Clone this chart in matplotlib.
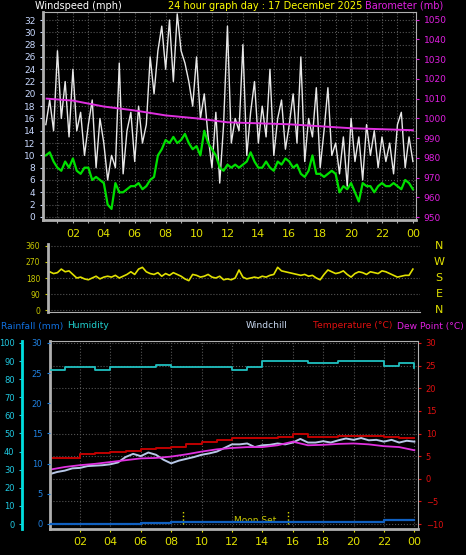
import numpy as np
import matplotlib
matplotlib.use("Agg")
import matplotlib.pyplot as plt

# ======================
# Data
# ======================
q_hours = np.arange(0.25, 24.01, 0.25)

wind_gust = [15, 19, 14, 27, 16, 22, 13, 24, 14, 17, 10, 15, 19, 8, 16, 12,
             6, 10, 8, 25, 7, 14, 17, 9, 18, 12, 15, 26, 20, 27, 31, 24,
             32, 22, 33, 27, 25, 22, 18, 26, 16, 20, 13, 8, 17, 5.5, 15, 31,
             12, 16, 14, 28, 10, 17, 22, 12, 18, 13, 24, 10, 16, 19, 11, 15,
             20, 12, 26, 9, 16, 13, 21, 8, 14, 21, 10, 12, 7, 13, 5, 16,
             9, 13, 6, 15, 10, 14, 8, 13, 9, 12, 7, 15, 17, 8, 13, 9]

wind_avg = [10, 10.5, 9, 8, 7.5, 9, 8, 9.5, 7.5, 7, 8, 8, 6, 6.5, 6, 5.5,
            2, 1.3, 5.5, 4, 4, 4.5, 5, 5, 5.5, 4.5, 5, 6, 6.5, 10, 11, 12.5,
            12, 13, 12, 12.5, 13.5, 12, 11, 11.5, 10, 14, 12, 11, 10, 8, 7.5, 8.5,
            8, 8.5, 8, 8.5, 9, 10.5, 9, 8, 8, 9, 8, 7.5, 9, 8.5, 9.5, 9,
            8, 8.5, 7, 6.5, 7.5, 10, 7, 7, 6.5, 7, 7.5, 7, 4, 5, 4.5, 5.5,
            4, 2.5, 5.5, 5, 5, 4, 5, 5.5, 5, 5, 5.5, 5, 4.5, 6, 5.5, 4.5]

wind_dir = [200, 215, 205, 210, 230, 215, 220, 200, 180, 185, 175, 170, 180, 190, 175, 185,
            190, 185, 195, 180, 190, 200, 215, 200, 230, 240, 215, 205, 200, 210, 190, 205,
            195, 210, 200, 190, 175, 165, 200, 195, 185, 190, 200, 185, 180, 190, 170, 175,
            170, 180, 225, 185, 175, 180, 185, 180, 190, 185, 195, 200, 240, 220, 215, 210,
            205, 200, 195, 200, 190, 195, 180, 170, 200, 225, 215, 205, 210, 220, 200, 185,
            205, 215, 210, 200, 215, 210, 205, 220, 215, 205, 195, 185, 190, 195, 195, 230]

baro_hours = [0.3, 2, 4, 6, 8, 10, 12, 14, 16, 18, 20, 22, 24]
baro = [1010, 1009, 1006, 1004, 1001.5, 1000, 998, 997.5, 997, 996, 995, 994.5, 994]

h_hours = np.arange(0, 25, 1)
temp = [4.5, 4.5, 5.5, 5.6, 6.0, 6.2, 6.6, 6.7, 7.0, 7.6, 8.1, 8.5, 9.1,
        8.9, 8.9, 9.3, 10.0, 9.3, 9.3, 9.4, 9.5, 9.5, 9.3, 9.1, 8.9]
dew = [2.0, 2.6, 3.0, 3.3, 3.7, 4.1, 4.5, 4.6, 4.9, 5.4, 6.0, 6.5, 6.8,
       7.0, 7.0, 7.4, 8.2, 7.4, 7.5, 7.7, 7.8, 7.6, 7.2, 7.0, 6.3]
humidity = [85.3, 86.6, 86.6, 85.3, 86.6, 86.6, 86.6, 88.0, 86.6, 86.6, 86.6, 86.6, 85.3,
            86.6, 90, 90, 90, 89, 89, 90, 90, 90, 87.5, 89, 86]
rain = [0, 0, 0, 0, 0, 0, 0.2, 0.2, 0.4, 0.4, 0.4, 0.4, 0.4,
        0.4, 0.4, 0.4, 0.4, 0.4, 0.4, 0.4, 0.4, 0.4, 0.7, 0.7, 0.7]

hh_hours = np.arange(0, 24.01, 0.5)
windchill = [1.0, 1.5, 1.8, 2.3, 2.4, 2.8, 2.9, 3.0, 3.2, 3.6,
             4.8, 5.5, 5.0, 5.8, 5.3, 4.2, 3.4, 4.0, 4.4, 4.8,
             5.3, 5.6, 6.0, 6.8, 7.6, 7.6, 7.8, 7.0, 7.4, 7.5,
             7.8, 7.6, 8.0, 8.8, 8.0, 8.0, 8.3, 8.0, 8.5, 8.9,
             8.6, 9.0, 8.5, 8.6, 8.2, 8.6, 8.0, 8.4, 8.2]

moon_lines = [8.76, 15.7]
hour_ticks = list(range(2, 25, 2))
hour_labels = ["%02d" % (h % 24) for h in hour_ticks]

# ======================
# Figure
# ======================
W, H = 466, 555
fig = plt.figure(figsize=(W / 100, H / 100), dpi=100, facecolor="black")


def rect(l, t, r, b):
    return [l / W, (H - b) / H, (r - l) / W, (b - t) / H]


def style(ax):
    ax.set_facecolor("black")
    for s in ax.spines.values():
        s.set_color("#b0b0b0")
    ax.tick_params(colors="#b0b0b0", labelsize=6.5, length=2)


fs = 7

# ---- top: wind speed + barometer
ax1 = fig.add_axes(rect(43, 12, 416, 220))
style(ax1)
ax1.set_xlim(0.065, 24.2)
ax1.set_ylim(-0.5, 33.3)
ax1.set_yticks(range(0, 33, 2))
ax1.tick_params(axis="y", colors="#c8d8ff")
ax1.set_xticks(np.arange(1, 25, 1))
ax1.set_xticklabels([])
ax1.grid(True, color="#555555", linestyle=":", linewidth=0.8)
ax1.plot(q_hours, wind_gust, color="#e8e8e8", lw=1.0)
ax1.plot(q_hours, wind_avg, color="#00e000", lw=1.6)
ax1.spines["left"].set_linewidth(2)
ax1.spines["bottom"].set_linewidth(2)

ax1b = ax1.twinx()
ax1b.set_ylim(948.5, 1050 + 8 / 2.05)
ax1b.set_yticks(range(950, 1051, 10))
ax1b.tick_params(colors="#e020e0", labelsize=6.5, length=2)
ax1b.plot(baro_hours, baro, color="#e030e0", lw=1.4)
for s in ax1b.spines.values():
    s.set_visible(False)
ax1.yaxis.tick_left()

fig.text(35 / W, 1 - 6 / H, "Windspeed (mph)", color="white", fontsize=fs, va="center")
fig.text(265 / W, 1 - 6 / H, "24 hour graph day : 17 December 2025", color="#ffff00",
         fontsize=fs, va="center", ha="center")
fig.text(443 / W, 1 - 6 / H, "Barometer (mb)", color="#e020e0", fontsize=fs,
         va="center", ha="right")

# ---- middle: wind direction
ax2 = fig.add_axes(rect(48, 244, 420, 312))
style(ax2)
ax2.set_xlim(0.39, 24.46)
ax2.set_ylim(-11, 371)
ax2.set_yticks([0, 90, 180, 270, 360])
ax2.tick_params(axis="y", colors="#c8c800", labelsize=5.5)
ax2.set_xticks(hour_ticks)
ax2.set_xticklabels(hour_labels)
ax2.tick_params(axis="x", top=True, bottom=False, labeltop=True, labelbottom=False,
                colors="#e0e000", labelsize=8, length=0)
ax2.grid(True, axis="y", color="#555555", linestyle=":", linewidth=0.8)
ax2.plot(q_hours, wind_dir, color="#e0e000", lw=1.2)
ax2.spines["left"].set_linewidth(2)
ax2.spines["top"].set_visible(False)
ax2.spines["right"].set_visible(False)
for lab, y in zip(["N", "W", "S", "E", "N"], [246, 262, 278, 294, 310]):
    fig.text(439 / W, 1 - y / H, lab, color="#e0e000", fontsize=8, ha="center", va="center")

# ---- bottom: temperature, humidity, rain
ax3 = fig.add_axes(rect(50, 341, 418, 529))
style(ax3)
ax3.set_xlim(0.03, 24.24)
ax3.set_ylim(-11.1, 30.44)
ax3.set_xticks(hour_ticks)
ax3.set_xticklabels(hour_labels)
ax3.tick_params(axis="x", colors="#e0e000", labelsize=8, length=2)
ax3.grid(True, color="#555555", linestyle=":", linewidth=0.8)
ax3.spines["left"].set_linewidth(2)
ax3.spines["bottom"].set_linewidth(2)
ax3.plot(h_hours, temp, color="#c00000", lw=1.4, drawstyle="steps-post")
ax3.plot(hh_hours, windchill, color="#b8c8e8", lw=1.4)
ax3.plot(h_hours, dew, color="#e030e0", lw=1.3)
for m in moon_lines:
    ax3.vlines(m, -10, -6.8, color="#e0e000", linestyle=":", lw=1)
ax3.text(13.5, -10.2, "Moon Set", color="#c8c800", fontsize=6.5, ha="center", va="bottom")

ax3h = ax3.twinx()
ax3h.set_ylim(-2.76, 101.1)
ax3h.plot(h_hours, humidity, color="#20c0c0", lw=1.3, drawstyle="steps-post")
ax3h.spines["left"].set_position(("outward", 20))
ax3h.spines["left"].set_color("#00e0e0")
ax3h.spines["left"].set_linewidth(2)
ax3h.spines["left"].set_visible(True)
ax3h.yaxis.set_ticks_position("left")
ax3h.set_yticks(range(0, 101, 10))
ax3h.tick_params(colors="#20c8e0", labelsize=6, length=2)
for s in ["right", "top", "bottom"]:
    ax3h.spines[s].set_visible(False)

ax3r = ax3.twinx()
ax3r.set_ylim(-0.83, 30.33)
ax3r.plot(h_hours, rain, color="#1060c0", lw=1.6, drawstyle="steps-post")
ax3r.yaxis.set_ticks_position("left")
ax3r.set_yticks(range(0, 31, 5))
ax3r.tick_params(colors="#2080e0", labelsize=6, length=2)
for s in ["right", "top", "bottom", "left"]:
    ax3r.spines[s].set_visible(False)

# twinx resets the host axis to the left side, so put temperature back on the right
ax3.yaxis.tick_right()
ax3.set_yticks(range(-10, 31, 5))
ax3.tick_params(axis="y", colors="#e01010", labelsize=6, length=2)

y_lab = 1 - 326 / H
fs2 = 6.6
fig.text(1 / W, y_lab, "Rainfall (mm)", color="#1070e0", fontsize=fs2, va="center")
fig.text(67 / W, y_lab, "Humidity", color="#20d0d0", fontsize=fs2, va="center")
fig.text(246 / W, y_lab, "Windchill", color="#c8d8f0", fontsize=fs2, va="center")
fig.text(313 / W, y_lab, "Temperature (°C)", color="#e01010", fontsize=fs2, va="center")
fig.text(464 / W, y_lab, "Dew Point (°C)", color="#e020e0", fontsize=fs2, va="center", ha="right")

fig.savefig("out.png", dpi=100, facecolor="black")
